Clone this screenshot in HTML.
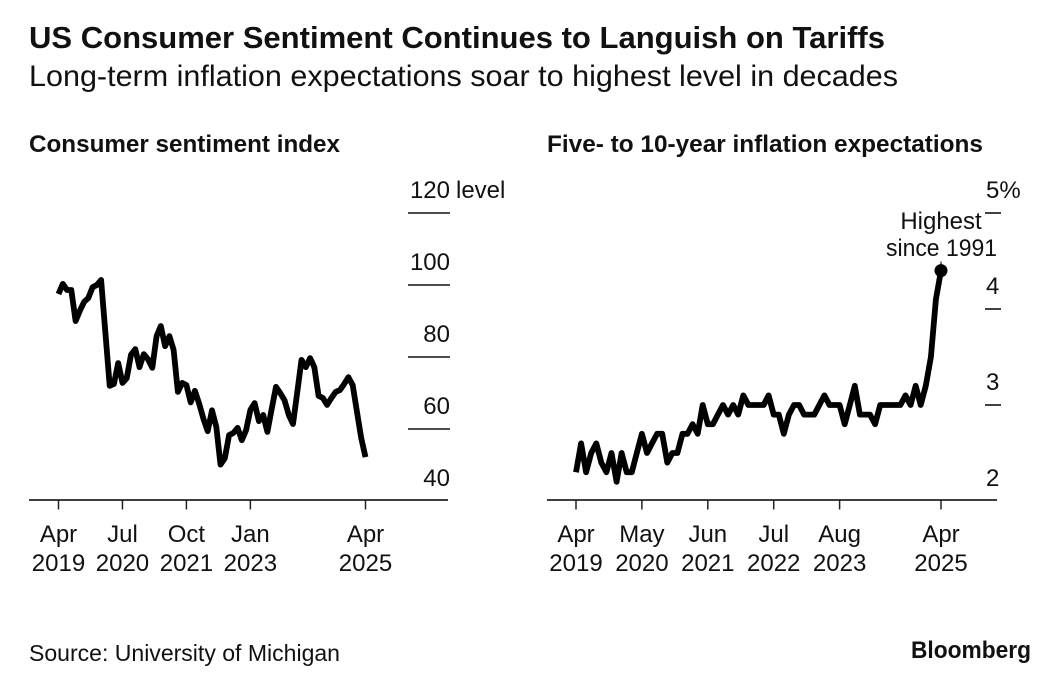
<!DOCTYPE html>
<html lang="en">
<head>
<meta charset="utf-8">
<title>US Consumer Sentiment Continues to Languish on Tariffs</title>
<style>
html,body{margin:0;padding:0;background:#fff;}
body{width:1046px;height:698px;overflow:hidden;}
svg{display:block;font-family:"Liberation Sans",Arial,sans-serif;fill:#111;}
.title{font-weight:700;font-size:30.5px;}
.subtitle{font-size:30px;}
.panel{font-weight:700;font-size:24.5px;}
.lab{font-size:24px;}
.src{font-size:23.5px;}
.brand{font-weight:700;font-size:24px;}
</style>
</head>
<body>
<svg id="chart" width="1046" height="698" viewBox="0 0 1046 698" xmlns="http://www.w3.org/2000/svg">
  <rect x="0" y="0" width="1046" height="698" fill="#fff"/>
  <text class="title" x="29" y="48" textLength="856" lengthAdjust="spacingAndGlyphs">US Consumer Sentiment Continues to Languish on Tariffs</text>
  <text class="subtitle" x="29" y="86" textLength="869" lengthAdjust="spacingAndGlyphs">Long-term inflation expectations soar to highest level in decades</text>
  <text class="panel" x="29" y="152" textLength="311" lengthAdjust="spacingAndGlyphs">Consumer sentiment index</text>
  <text class="panel" x="547" y="152" textLength="436" lengthAdjust="spacingAndGlyphs">Five- to 10-year inflation expectations</text>
  <g id="left-panel"></g>
  <g id="right-panel"></g>
  <text class="lab" x="456" y="198">level</text>
  <text class="lab" x="941" y="229" text-anchor="middle">Highest</text>
  <text class="lab" x="886" y="256" textLength="111" lengthAdjust="spacingAndGlyphs">since 1991</text>
  <text class="src" x="29" y="661" textLength="311" lengthAdjust="spacingAndGlyphs">Source: University of Michigan</text>
  <text class="brand" x="911" y="658" textLength="120" lengthAdjust="spacingAndGlyphs">Bloomberg</text>
</svg>
<script>
var MONTHS = ["Jan","Feb","Mar","Apr","May","Jun","Jul","Aug","Sep","Oct","Nov","Dec"];

var sentimentValues = [97.5,100.3,98.6,98.6,90,92.8,95.3,96.4,99.4,100,101.4,86.7,72,72.5,78.3,72.8,74.1,80.6,82.2,77.2,80.8,79.4,77,85.8,88.6,83,85.8,82,70.3,72.8,72.2,67.4,70.6,67,62.8,59.4,65.2,60.6,50.1,51.9,58.3,58.9,60.3,56.9,59.7,65.3,67.2,62.2,63.9,59.2,65.6,71.7,70,68,63.9,61.4,70.3,79.2,77.2,79.7,77.2,69.2,68.6,66.7,68.6,70.3,70.8,72.5,74.4,72.2,64.7,57.5,52.2];
var inflationValues = [2.3,2.6,2.3,2.5,2.6,2.4,2.3,2.5,2.2,2.5,2.3,2.3,2.5,2.7,2.5,2.6,2.7,2.7,2.4,2.5,2.5,2.7,2.7,2.8,2.7,3.0,2.8,2.8,2.9,3.0,2.9,3.0,2.9,3.1,3.0,3.0,3.0,3.0,3.1,2.9,2.9,2.7,2.9,3.0,3.0,2.9,2.9,2.9,3.0,3.1,3.0,3.0,3.0,2.8,3.0,3.2,2.9,2.9,2.9,2.8,3.0,3.0,3.0,3.0,3.0,3.1,3.0,3.2,3.0,3.2,3.5,4.1,4.4];

var sentimentXTicks = ["Apr 2019","Jul 2020","Oct 2021","Jan 2023","Apr 2025"];
var inflationXTicks = ["Apr 2019","May 2020","Jun 2021","Jul 2022","Aug 2023","Apr 2025"];
var sentimentYTicks = [120,100,80,60,40];
var inflationYTicks = [5,4,3,2];

var NS = "http://www.w3.org/2000/svg";
function mk(parent, tag, attrs, txt){
  var e = document.createElementNS(NS, tag);
  for (var k in attrs) e.setAttribute(k, attrs[k]);
  if (txt !== undefined) e.textContent = txt;
  parent.appendChild(e);
  return e;
}
function monthIndex(label){
  var p = label.split(" ");
  return (Number(p[1]) - 2019) * 12 + MONTHS.indexOf(p[0]) - 3;
}
var AXIS_Y = 500;
var leftG = document.getElementById("left-panel");
var rightG = document.getElementById("right-panel");

function xLeft(m){ return 58.5 + m * 307 / 72; }
function yLeft(v){ return 501 - (v - 40) * 3.6; }
function xRight(m){ return 576 + m * 365 / 72; }
function yRight(v){ return 501 - (v - 2) * 96; }

function pathFrom(values, xf, yf){
  return values.map(function(v, i){ return (i ? "L" : "M") + xf(i).toFixed(1) + " " + yf(v).toFixed(1); }).join(" ");
}

function drawXTicks(g, ticks, xf){
  ticks.forEach(function(label){
    var x = xf(monthIndex(label));
    var parts = label.split(" ");
    var t = mk(g, "line", {x1:x, x2:x, y1:AXIS_Y, y2:509.5, stroke:"#222", "stroke-width":1.5});
    
    
    var a = mk(g, "text", {"class":"lab", x:x, y:542, "text-anchor":"middle"}, parts[0]);
    
    
    var b = mk(g, "text", {"class":"lab", x:x, y:571, "text-anchor":"middle"}, parts[1]);
    
    
  });
}

/* left panel */
var leftAxis = mk(leftG, "line", {x1:29, x2:448, y1:AXIS_Y, y2:AXIS_Y, stroke:"#222", "stroke-width":1.8});


drawXTicks(leftG, sentimentXTicks, xLeft);
sentimentYTicks.forEach(function(v){
  if (v !== 40) {
    var g1 = mk(leftG, "line", {x1:408, x2:450, y1:yLeft(v), y2:yLeft(v), stroke:"#111", "stroke-width":1.6});
    
    
  }
  var l1 = mk(leftG, "text", {"class":"lab", x:450, y:yLeft(v) - 15, "text-anchor":"end"}, String(v));
  
  
});
var leftLine = mk(leftG, "path", {d:pathFrom(sentimentValues, xLeft, yLeft), fill:"none", stroke:"#000", "stroke-width":5.8, "stroke-linejoin":"round"});



/* right panel */
var rightAxis = mk(rightG, "line", {x1:547, x2:997, y1:AXIS_Y, y2:AXIS_Y, stroke:"#222", "stroke-width":1.8});


drawXTicks(rightG, inflationXTicks, xRight);
inflationYTicks.forEach(function(v){
  if (v !== 2) {
    var g2 = mk(rightG, "line", {x1:985, x2:1001, y1:yRight(v), y2:yRight(v), stroke:"#111", "stroke-width":1.6});
    
    
  }
  var l2 = mk(rightG, "text", {"class":"lab", x:986, y:yRight(v) - 15}, String(v) + (v === 5 ? "%" : ""));
  
  
});
var rightLine = mk(rightG, "path", {d:pathFrom(inflationValues, xRight, yRight), fill:"none", stroke:"#000", "stroke-width":5.8, "stroke-linejoin":"round"});



var lastI = inflationValues.length - 1;
var dotX = xRight(lastI), dotY = yRight(inflationValues[lastI]);
var leader = mk(rightG, "line", {x1:dotX, x2:dotX, y1:dotY - 9, y2:dotY, stroke:"#111", "stroke-width":1.2});


var dot = mk(rightG, "circle", {cx:dotX, cy:dotY, r:6.5, fill:"#000"});


</script>
</body>
</html>
